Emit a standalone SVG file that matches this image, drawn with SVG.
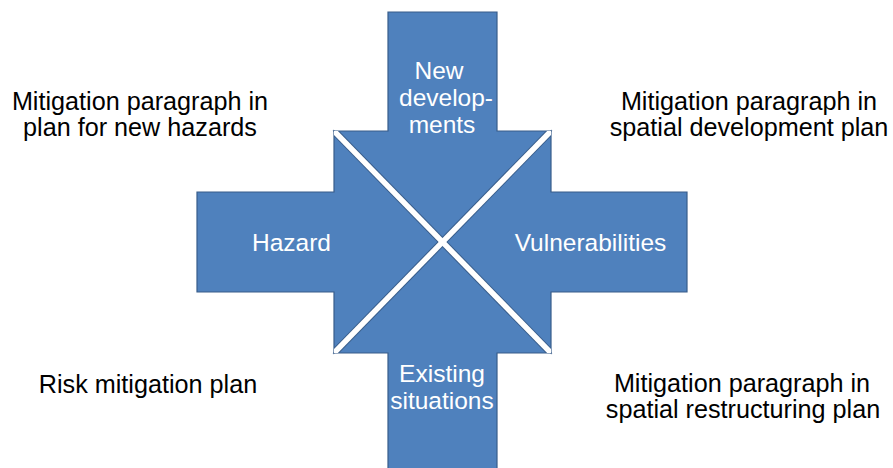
<svg xmlns="http://www.w3.org/2000/svg" width="893" height="468" viewBox="0 0 893 468">
<style>
.arrow{fill:#4F81BD;stroke:#385D8A;stroke-width:1.2;stroke-linejoin:miter}
.lbl{font-family:"Liberation Sans",Arial,sans-serif;font-size:24.5px;fill:#FFFFFF;text-anchor:middle}
.note{font-family:"Liberation Sans",Arial,sans-serif;font-size:25.2px;fill:#000000;text-anchor:middle}
</style>
<defs>
<clipPath id="sq"><rect x="334" y="131" width="217" height="222"/></clipPath>
</defs>
<rect width="893" height="468" fill="#FFFFFF"/>
<g id="arrow-new-developments">
<polygon class="arrow" points="388,12 497,12 497,131 551,131 442.5,242 334,131 388,131"/>
<text class="lbl" x="439" y="79">New</text>
<text class="lbl" x="446" y="106">develop-</text>
<text class="lbl" x="442" y="133">ments</text>
</g>
<g id="arrow-hazard">
<polygon class="arrow" points="197,192 334,192 334,131 442.5,242 334,353 334,292 197,292"/>
<text class="lbl" x="291.5" y="251">Hazard</text>
</g>
<g id="arrow-vulnerabilities">
<polygon class="arrow" points="687,192 551,192 551,131 442.5,242 551,353 551,292 687,292"/>
<text class="lbl" x="590.5" y="251">Vulnerabilities</text>
</g>
<g id="arrow-existing-situations">
<polygon class="arrow" points="388,470 497,470 497,353 551,353 442.5,242 334,353 388,353"/>
<text class="lbl" x="442" y="382">Existing</text>
<text class="lbl" x="442" y="409">situations</text>
</g>
<g id="separators" clip-path="url(#sq)">
<line x1="334" y1="131" x2="551" y2="353" stroke="#385D8A" stroke-width="7.5"/>
<line x1="551" y1="131" x2="334" y2="353" stroke="#385D8A" stroke-width="7.5"/>
<line x1="334" y1="131" x2="551" y2="353" stroke="#FFFFFF" stroke-width="5.5"/>
<line x1="551" y1="131" x2="334" y2="353" stroke="#FFFFFF" stroke-width="5.5"/>
</g>
<g id="note-top-left">
<text class="note" x="140" y="110">Mitigation paragraph in</text>
<text class="note" x="140" y="136">plan for new hazards</text>
</g>
<g id="note-top-right">
<text class="note" x="749" y="110">Mitigation paragraph in</text>
<text class="note" x="749" y="136">spatial development plan</text>
</g>
<g id="note-bottom-left">
<text class="note" x="148" y="393">Risk mitigation plan</text>
</g>
<g id="note-bottom-right">
<text class="note" x="742" y="392">Mitigation paragraph in</text>
<text class="note" x="743" y="418">spatial restructuring plan</text>
</g>
</svg>
